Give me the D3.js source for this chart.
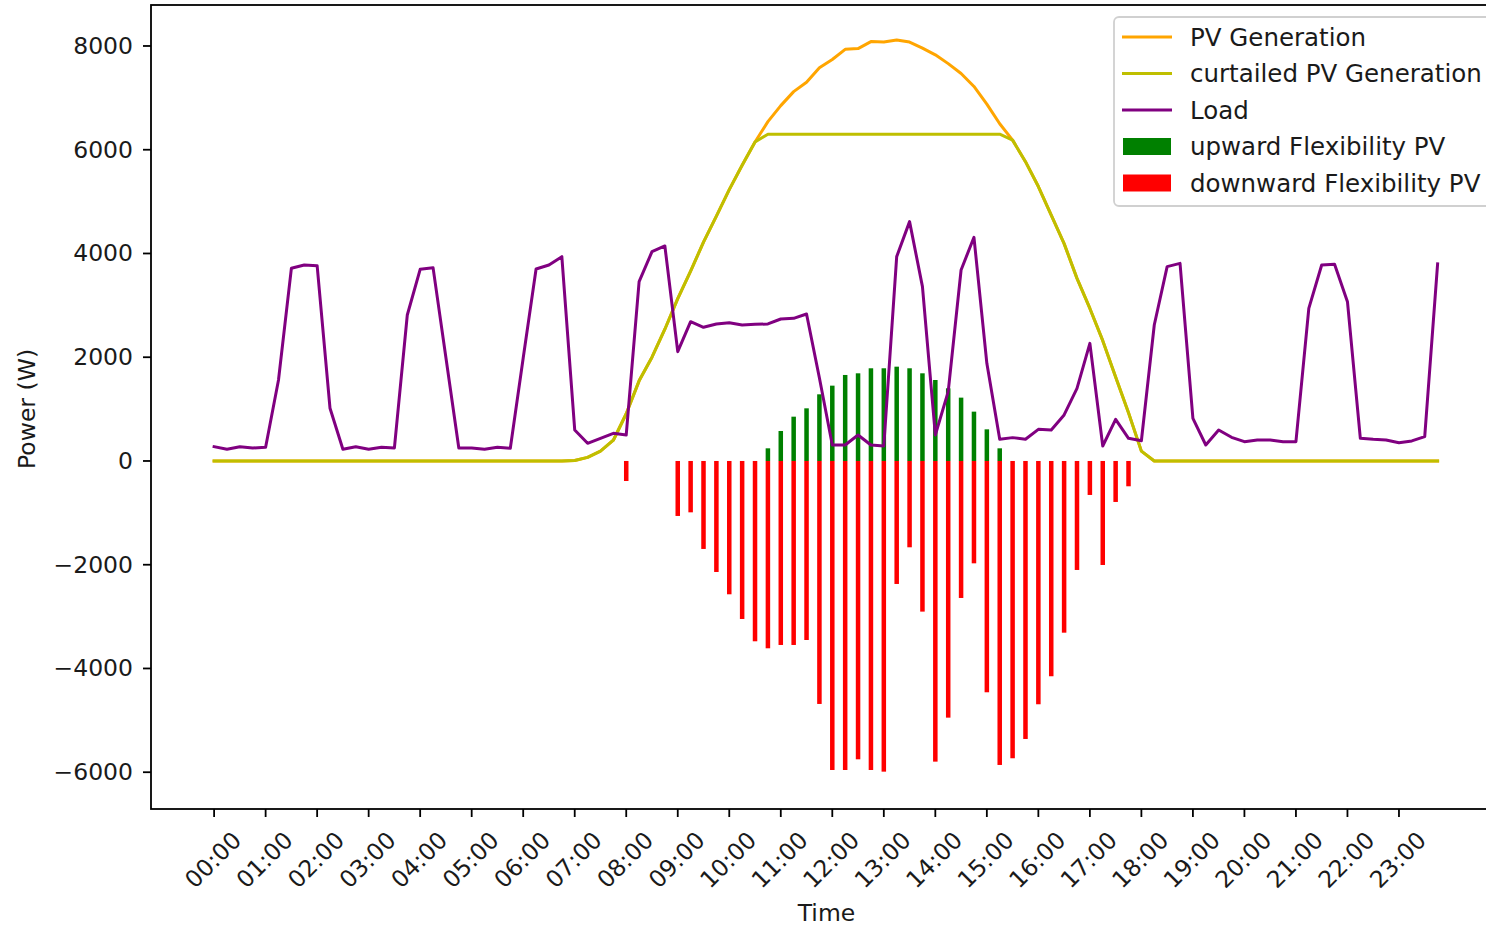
<!DOCTYPE html>
<html><head><meta charset="utf-8">
<script src="https://cdn.jsdelivr.net/npm/d3@7"></script>
<style>body{margin:0;background:#fff}svg{display:block}text{font-family:"DejaVu Sans",sans-serif;fill:#1a1a1a}</style>
</head><body><svg id="c" width="1486" height="927"></svg>
<script>
const hourLabels=["00:00","01:00","02:00","03:00","04:00","05:00","06:00","07:00","08:00","09:00","10:00","11:00","12:00","13:00","14:00","15:00","16:00","17:00","18:00","19:00","20:00","21:00","22:00","23:00"];
const yTicks=[-6000,-4000,-2000,0,2000,4000,6000,8000];
const load=[276,225,276,250,264,1561,3714,3778,3765,1015,225,276,
225,264,251,2814,3695,3727,1990,250,250,225,264,245,
1985,3701,3778,3939,598,341,437,533,501,3457,4035,4145,
2107,2685,2577,2641,2666,2622,2634,2641,2737,2750,2834,1600,
308,308,501,308,289,3939,4614,3361,501,1337,3682,4312,
1883,418,450,418,610,598,887,1401,2268,289,803,437,
390,2622,3746,3810,823,308,598,456,372,405,405,372,
372,2943,3778,3791,3071,437,418,405,353,386,469,3798];
const pv=[0,0,0,0,0,0,0,0,0,0,0,0,
0,0,0,0,0,0,0,0,0,0,0,0,
0,0,0,0,10,70,190,400,910,1545,2000,2540,
3130,3660,4220,4720,5230,5700,6150,6542,6850,7120,7300,7580,
7740,7935,7950,8085,8075,8117,8075,7960,7830,7660,7470,7220,
6880,6500,6185,5770,5290,4740,4190,3520,2940,2320,1620,930,
190,0,0,0,0,0,0,0,0,0,0,0,
0,0,0,0,0,0,0,0,0,0,0,0];
const pvCurtailed=[0,0,0,0,0,0,0,0,0,0,0,0,
0,0,0,0,0,0,0,0,0,0,0,0,
0,0,0,0,10,70,190,400,910,1545,2000,2540,
3130,3660,4220,4720,5230,5700,6150,6300,6300,6300,6300,6300,
6300,6300,6300,6300,6300,6300,6300,6300,6300,6300,6300,6300,
6300,6300,6185,5770,5290,4740,4190,3520,2940,2320,1620,930,
190,0,0,0,0,0,0,0,0,0,0,0,
0,0,0,0,0,0,0,0,0,0,0,0];
const flexUp=[0,0,0,0,0,0,0,0,0,0,0,0,
0,0,0,0,0,0,0,0,0,0,0,0,
0,0,0,0,0,0,0,0,0,0,0,0,
0,0,0,0,0,0,0,244,578,854,1015,1285,
1452,1658,1690,1787,1787,1818,1787,1690,1561,1401,1221,951,
610,244,0,0,0,0,0,0,0,0,0,0,
0,0,0,0,0,0,0,0,0,0,0,0,
0,0,0,0,0,0,0,0,0,0,0,0];
const flexDown=[0,0,0,0,0,0,0,0,0,0,0,0,
0,0,0,0,0,0,0,0,0,0,0,0,
0,0,0,0,0,0,0,0,-386,0,0,0,
-1060,-990,-1696,-2140,-2570,-3046,-3476,-3611,-3547,-3547,-3451,-4684,
-5957,-5957,-5751,-5957,-5989,-2371,-1664,-2904,-5796,-4948,-2641,-1973,
-4459,-5860,-5731,-5359,-4690,-4150,-3310,-2101,-655,-2005,-790,-488,
0,0,0,0,0,0,0,0,0,0,0,0,
0,0,0,0,0,0,0,0,0,0,0,0];
const legendItems=[["PV Generation","line","orange"],["curtailed PV Generation","line","#bfbf00"],["Load","line","purple"],["upward Flexibility PV","patch","green"],["downward Flexibility PV","patch","red"]];

const svg=d3.select("#c");
const L=151,R=1502,T=5,B=809;
const x=d3.scaleLinear().domain([-4.9,100]).range([L,R]);
const y=d3.scaleLinear().domain([-6709,8790]).range([B,T]);
svg.append("rect").attr("width",1486).attr("height",927).attr("fill","#fff");
svg.append("clipPath").attr("id","clip").append("rect").attr("x",L).attr("y",T).attr("width",R-L).attr("height",B-T);
const g=svg.append("g").attr("clip-path","url(#clip)");
const bw=0.35;
const idx=d3.range(load.length);
g.selectAll(".up").data(idx.filter(i=>flexUp[i]!==0)).join("rect")
 .attr("x",i=>x(i-bw/2)).attr("width",i=>x(bw)-x(0))
 .attr("y",i=>y(flexUp[i])).attr("height",i=>y(0)-y(flexUp[i])).attr("fill","green");
g.selectAll(".dn").data(idx.filter(i=>flexDown[i]!==0)).join("rect")
 .attr("x",i=>x(i-bw/2)).attr("width",i=>x(bw)-x(0))
 .attr("y",y(0)).attr("height",i=>y(flexDown[i])-y(0)).attr("fill","red");
const line=d3.line().x((d,i)=>x(i)).y(d=>y(d));
[[pv,"orange"],[pvCurtailed,"#bfbf00"],[load,"purple"]].forEach(([d,c])=>{
 g.append("path").attr("d",line(d)).attr("fill","none").attr("stroke",c).attr("stroke-width",3).attr("stroke-linejoin","round").attr("stroke-linecap","square");
});
svg.append("rect").attr("x",L).attr("y",T).attr("width",R-L).attr("height",B-T).attr("fill","none").attr("stroke","#000").attr("stroke-width",1.8);
const fs=23.5;
yTicks.forEach(v=>{
 svg.append("line").attr("x1",L-8).attr("x2",L).attr("y1",y(v)).attr("y2",y(v)).attr("stroke","#000").attr("stroke-width",1.8);
 svg.append("text").attr("x",L-18).attr("y",y(v)).attr("text-anchor","end").attr("dominant-baseline","central").attr("font-size",fs).text(v<0?"\u2212"+Math.abs(v):String(v));
});
hourLabels.forEach((lab,h)=>{
 const xi=x(h*4);
 svg.append("line").attr("x1",xi).attr("x2",xi).attr("y1",B).attr("y2",B+8).attr("stroke","#000").attr("stroke-width",1.8);
 svg.append("text").attr("transform",`translate(${xi-1},${B+51}) rotate(-45)`).attr("text-anchor","middle").attr("dominant-baseline","central").attr("font-size",fs).text(lab);
});
svg.append("text").attr("x",(L+R)/2).attr("y",921).attr("text-anchor","middle").attr("font-size",fs).text("Time");
svg.append("text").attr("transform",`translate(27,${(T+B)/2+2}) rotate(-90)`).attr("text-anchor","middle").attr("dominant-baseline","central").attr("font-size",fs).text("Power (W)");
const lg=svg.append("g");
lg.append("rect").attr("x",1114).attr("y",17).attr("width",390).attr("height",189).attr("rx",5).attr("fill","#fff").attr("fill-opacity",0.8).attr("stroke","#d0d0d0").attr("stroke-width",1.8);
legendItems.forEach(([lab,type,c],k)=>{
 const cy=37+k*36.5;
 if(type==="line") lg.append("line").attr("x1",1122).attr("x2",1172).attr("y1",cy).attr("y2",cy).attr("stroke",c).attr("stroke-width",3);
 else lg.append("rect").attr("x",1123).attr("y",cy-8.5).attr("width",48).attr("height",17).attr("fill",c);
 lg.append("text").attr("x",1190).attr("y",cy).attr("dominant-baseline","central").attr("font-size",24.5).text(lab);
});
</script></body></html>
